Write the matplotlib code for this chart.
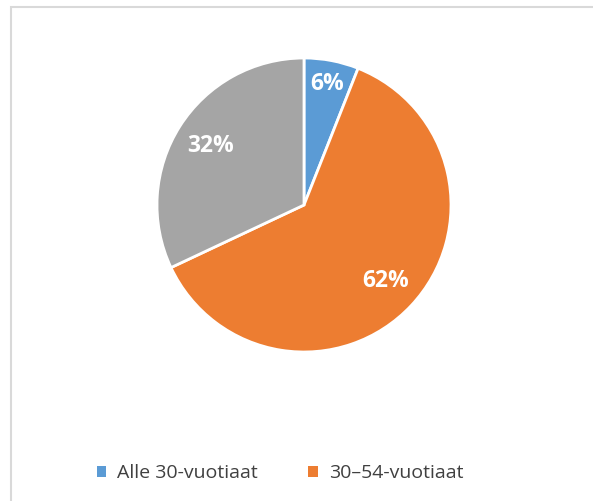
import numpy as np
import matplotlib.pyplot as plt
from matplotlib.patches import Patch, Rectangle

# ikäryhmät ja osuudet (%)
groups = ["Alle 30-vuotiaat", "30\u201354-vuotiaat", "Yli 54-vuotiaat"]
shares = [6, 62, 32]
colors = ["#5B9BD5", "#ED7D31", "#A5A5A5"]
label_r = [0.84, 0.76, 0.75]

plt.rcParams['font.family'] = ['Open Sans', 'DejaVu Sans']

fig = plt.figure(figsize=(5.93, 5.01), dpi=100)
ax = fig.add_axes([157 / 593, 149 / 501, 294 / 593, 294 / 501])

wedges, _ = ax.pie(shares, colors=colors, startangle=90, counterclock=False,
                   wedgeprops=dict(edgecolor="white", linewidth=2))
ax.set_xlim(-1.0, 1.0)
ax.set_ylim(-1.0, 1.0)
ax.set_aspect("equal")

for w, val, r in zip(wedges, shares, label_r):
    ang = np.deg2rad((w.theta1 + w.theta2) / 2)
    ax.text(r * np.cos(ang), r * np.sin(ang), f"{val}%", ha="center", va="center",
            color="white", fontsize=16.5, fontweight="bold")

# chart area border (cut off at right and bottom)
fig.patches.append(Rectangle((11 / 593, -0.1), 1.2, 1.1 - 7 / 501,
                             transform=fig.transFigure, fill=False,
                             edgecolor="#D9D9D9", linewidth=1.5))

handles = [Patch(facecolor=c, edgecolor="none") for c in colors[:2]]
fig.legend(handles, groups[:2], loc="center", bbox_to_anchor=(280 / 593, 1 - 473 / 501),
           ncol=2, frameon=False, fontsize=14, handlelength=0.5, handleheight=0.5,
           handletextpad=0.55, columnspacing=2.6, labelcolor="#404040")

fig.savefig("out.png", dpi=100)
